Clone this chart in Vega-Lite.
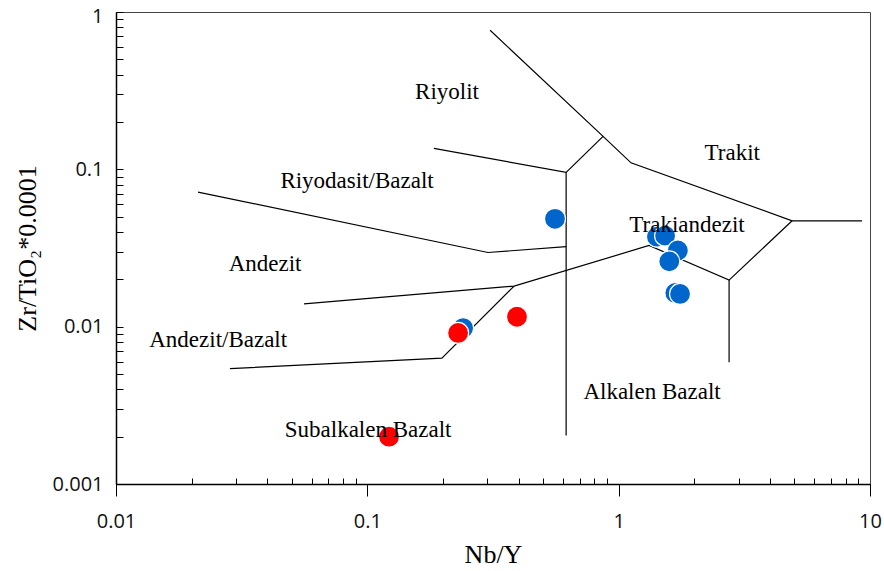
{
  "$schema": "https://vega.github.io/schema/vega-lite/v6.json",
  "autosize": "none",
  "width": 754,
  "height": 472,
  "padding": {"left": 116, "top": 12, "right": 14, "bottom": 87},
  "background": "white",
  "config": {
    "view": {"stroke": "#444", "strokeWidth": 1},
    "axis": {"grid": false, "domainColor": "#000", "domainWidth": 1.5, "tickColor": "#000", "tickWidth": 1}
  },
  "datasets": {
    "fields": [
      {"seg": "L1", "ord": 1, "x": 0.308, "y": 0.765},
      {"seg": "L1", "ord": 2, "x": 0.867, "y": 0.162},
      {"seg": "L1", "ord": 3, "x": 1.12, "y": 0.110},
      {"seg": "L1", "ord": 4, "x": 4.90, "y": 0.0471},
      {"seg": "L1", "ord": 5, "x": 9.30, "y": 0.0471},
      {"seg": "L2", "ord": 1, "x": 0.184, "y": 0.136},
      {"seg": "L2", "ord": 2, "x": 0.618, "y": 0.0957},
      {"seg": "L2", "ord": 3, "x": 0.867, "y": 0.162},
      {"seg": "L3", "ord": 1, "x": 0.618, "y": 0.0957},
      {"seg": "L3", "ord": 2, "x": 0.618, "y": 0.00203},
      {"seg": "L4", "ord": 1, "x": 0.0212, "y": 0.0717},
      {"seg": "L4", "ord": 2, "x": 0.302, "y": 0.0296},
      {"seg": "L4", "ord": 3, "x": 0.618, "y": 0.0323},
      {"seg": "L5", "ord": 1, "x": 0.0560, "y": 0.01396},
      {"seg": "L5", "ord": 2, "x": 0.3836, "y": 0.01811},
      {"seg": "L5", "ord": 3, "x": 1.321, "y": 0.0328},
      {"seg": "L5", "ord": 4, "x": 2.75, "y": 0.01977},
      {"seg": "L5", "ord": 5, "x": 4.90, "y": 0.0471},
      {"seg": "L6", "ord": 1, "x": 2.75, "y": 0.01977},
      {"seg": "L6", "ord": 2, "x": 2.75, "y": 0.00593},
      {"seg": "L7", "ord": 1, "x": 0.0284, "y": 0.00541},
      {"seg": "L7", "ord": 2, "x": 0.198, "y": 0.00631},
      {"seg": "L7", "ord": 3, "x": 0.3836, "y": 0.01811}
    ],
    "samples": [
      {"grp": "A", "ord": 1, "x": 0.558, "y": 0.0485},
      {"grp": "A", "ord": 2, "x": 1.42, "y": 0.0373},
      {"grp": "A", "ord": 3, "x": 1.53, "y": 0.0379},
      {"grp": "A", "ord": 4, "x": 1.72, "y": 0.0305},
      {"grp": "A", "ord": 5, "x": 1.59, "y": 0.0260},
      {"grp": "A", "ord": 6, "x": 1.68, "y": 0.01637},
      {"grp": "A", "ord": 7, "x": 1.755, "y": 0.01614},
      {"grp": "A", "ord": 8, "x": 0.2405, "y": 0.0098},
      {"grp": "B", "ord": 9, "x": 0.2297, "y": 0.00912},
      {"grp": "B", "ord": 10, "x": 0.394, "y": 0.01156},
      {"grp": "B", "ord": 11, "x": 0.122, "y": 0.0020}
    ],
    "names": [
      {"label": "Riyolit", "x": 0.2075, "y": 0.31},
      {"label": "Trakit", "x": 2.83, "y": 0.127},
      {"label": "Riyodasit/Bazalt", "x": 0.091, "y": 0.0841},
      {"label": "Trakiandezit", "x": 1.87, "y": 0.0445},
      {"label": "Andezit", "x": 0.0392, "y": 0.0249},
      {"label": "Andezit/Bazalt", "x": 0.0255, "y": 0.00819},
      {"label": "Alkalen Bazalt", "x": 1.358, "y": 0.00386},
      {"label": "Subalkalen Bazalt", "x": 0.1007, "y": 0.00222}
    ]
  },
  "resolve": {"axis": {"x": "independent"}},
  "layer": [
    {
      "data": {"name": "fields"},
      "mark": {"type": "line", "color": "#000", "strokeWidth": 1.2, "clip": true},
      "encoding": {
        "x": {
          "field": "x", "type": "quantitative",
          "scale": {"type": "log", "domain": [0.01, 10], "nice": false},
          "axis": {
            "orient": "bottom",
            "title": "Nb/Y",
            "titleFont": "Liberation Serif", "titleFontSize": 26, "titleFontWeight": "normal",
            "titleColor": "#000", "titlePadding": 10,
            "values": [0.01, 0.1, 1, 10],
            "format": "~g",
            "tickSize": 12,
            "labelFont": "Open Sans", "labelFontSize": 20, "labelColor": "#111",
            "labelPadding": 15, "labelFlush": false, "labelOverlap": false
          }
        },
        "y": {
          "field": "y", "type": "quantitative",
          "scale": {"type": "log", "domain": [0.001, 1], "nice": false},
          "axis": {
            "title": "Zr/TiO₂*0.0001",
            "titleFont": "Liberation Serif", "titleFontSize": 26, "titleFontWeight": "normal",
            "titleColor": "#000", "titlePadding": 12,
            "values": [0.001, 0.002, 0.003, 0.004, 0.005, 0.006, 0.007, 0.008, 0.009,
                       0.01, 0.02, 0.03, 0.04, 0.05, 0.06, 0.07, 0.08, 0.09,
                       0.1, 0.2, 0.3, 0.4, 0.5, 0.6, 0.7, 0.8, 0.9, 1],
            "labelExpr": "indexof([1, 0.1, 0.01, 0.001], datum.value) >= 0 ? format(datum.value, '~g') : ''",
            "labelOffset": {"condition": {"test": "datum.value >= 1", "value": 4}, "value": 0},
            "tickSize": -7,
            "labelFont": "Open Sans", "labelFontSize": 20, "labelColor": "#111",
            "labelPadding": 20, "labelFlush": false, "labelOverlap": false, "labelBound": false
          }
        },
        "detail": {"field": "seg"},
        "order": {"field": "ord", "type": "quantitative"}
      }
    },
    {
      "data": {"name": "samples"},
      "mark": {"type": "circle", "size": 440, "opacity": 1, "stroke": "white", "strokeWidth": 1.2},
      "encoding": {
        "x": {"field": "x", "type": "quantitative", "axis": null},
        "y": {"field": "y", "type": "quantitative"},
        "color": {
          "field": "grp", "type": "nominal", "legend": null,
          "scale": {"domain": ["A", "B"], "range": ["#0066CC", "#FF0000"]}
        },
        "order": {"field": "ord", "type": "quantitative"}
      }
    },
    {
      "data": {"name": "names"},
      "mark": {"type": "text", "font": "Liberation Serif", "fontSize": 23, "color": "#000", "align": "center", "baseline": "middle"},
      "encoding": {
        "x": {
          "field": "x", "type": "quantitative",
          "axis": {
            "orient": "bottom",
            "title": null,
            "values": [0.02, 0.03, 0.04, 0.05, 0.06, 0.07, 0.08, 0.09,
                       0.2, 0.3, 0.4, 0.5, 0.6, 0.7, 0.8, 0.9,
                       2, 3, 4, 5, 6, 7, 8, 9],
            "labels": false,
            "domain": false,
            "tickSize": -6
          }
        },
        "y": {"field": "y", "type": "quantitative"},
        "text": {"field": "label"}
      }
    }
  ]
}
